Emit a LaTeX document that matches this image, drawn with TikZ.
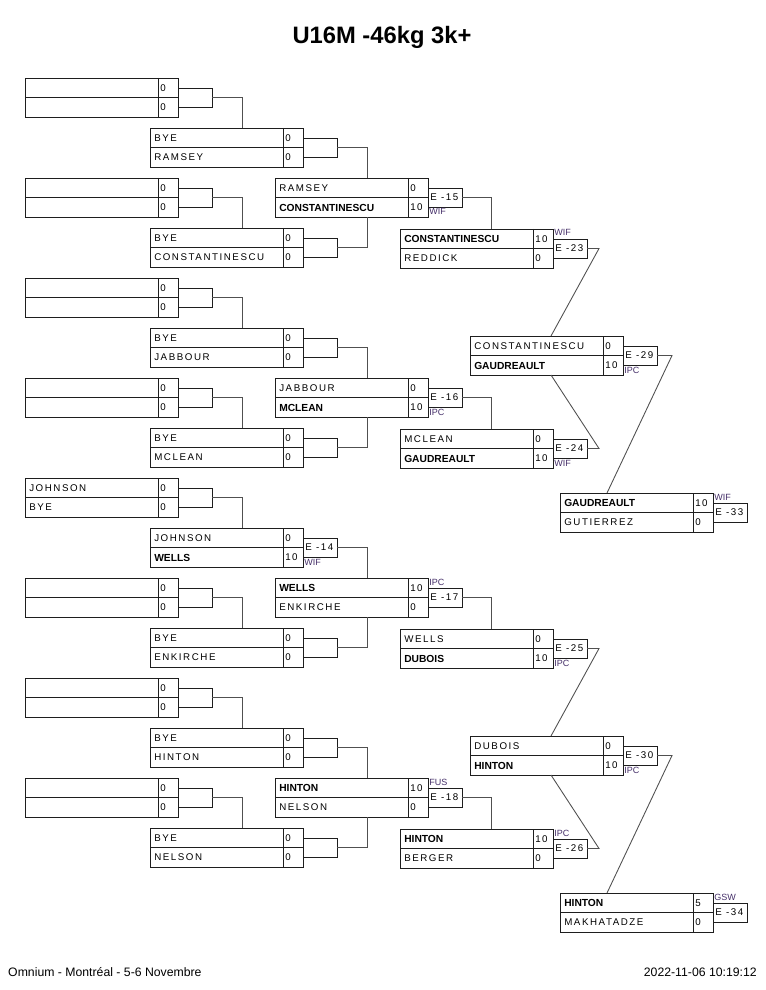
\documentclass[tikz,border=0pt]{standalone}
\usepackage{fontspec}
\setmainfont{Liberation Sans}
\newfontfamily\spc[LetterSpace=16]{Liberation Sans}
\usetikzlibrary{calc}
\definecolor{lblc}{HTML}{46306A}
\definecolor{boxc}{HTML}{1E1E1E}
\definecolor{lnkc}{HTML}{505050}
\tikzset{
 mbox/.style={draw=boxc, line width=0.7pt, rectangle, anchor=north west, minimum width=122.4pt, minimum height=31.2pt, inner sep=0pt, outer sep=0pt},
 cbox/.style={draw=boxc, line width=0.7pt, rectangle, anchor=west, minimum width=27.2pt, minimum height=15.2pt, inner sep=0pt, outer sep=0pt},
 div/.style={draw=boxc, line width=0.7pt},
 nm/.style={anchor=west, inner sep=0pt, font=\spc\fontsize{7.8}{9}\selectfont},
 sc/.style={anchor=west, inner sep=0pt, font=\spc\fontsize{7.8}{9}\selectfont},
 ct/.style={anchor=west, inner sep=0pt, font=\spc\fontsize{7.8}{9}\selectfont},
 lk/.style={draw=lnkc, line width=0.7pt},
 labA/.style={anchor=base west, inner sep=0pt, font=\fontsize{7.2}{8}\selectfont, text=lblc},
}
\newcommand\B[1]{{\normalfont\bfseries\fontsize{8.2}{9}\selectfont #1}}
\newcommand\mbx[8]{%
 \node[mbox] (#1) at (#2,#3) {};
 \draw[div] (#2,#3+19.5) -- (#2+153,#3+19.5);
 \draw[div] (#2+133,#3) -- (#2+133,#3+39);
 \node[nm] (#1-t) at (#2+4,#3+10) {#4};
 \node[sc] (#1-ts) at (#2+135,#3+10) {#5};
 \node[nm] (#1-b) at (#2+4,#3+29.5) {#6};
 \node[sc] (#1-bs) at (#2+135,#3+29.5) {#7};
 \node[cbox] (#1c) at (#2+153,#3+19.5) {};
 \node[ct] (#1-ct) at (#2+155,#3+19.5) {#8};
}
\begin{document}
\begin{tikzpicture}[x=0.8pt,y=-0.8pt]
\fill[white] (0,0) rectangle (765,990);
\useasboundingbox (0,0) rectangle (765,990);
\node[font=\bfseries\fontsize{19}{22}\selectfont] (title) at (382,37) {U16M -46kg 3k+};
% round 1
\mbx{r1a}{25}{78}{}{0}{}{0}{}
\mbx{r1b}{25}{178}{}{0}{}{0}{}
\mbx{r1c}{25}{278}{}{0}{}{0}{}
\mbx{r1d}{25}{378}{}{0}{}{0}{}
\mbx{r1e}{25}{478}{JOHNSON}{0}{BYE}{0}{}
\mbx{r1f}{25}{578}{}{0}{}{0}{}
\mbx{r1g}{25}{678}{}{0}{}{0}{}
\mbx{r1h}{25}{778}{}{0}{}{0}{}
% round 2
\mbx{r2a}{150}{128}{BYE}{0}{RAMSEY}{0}{}
\mbx{r2b}{150}{228}{BYE}{0}{CONSTANTINESCU}{0}{}
\mbx{r2c}{150}{328}{BYE}{0}{JABBOUR}{0}{}
\mbx{r2d}{150}{428}{BYE}{0}{MCLEAN}{0}{}
\mbx{r2e}{150}{528}{JOHNSON}{0}{\B{WELLS}}{10}{E -14}
\mbx{r2f}{150}{628}{BYE}{0}{ENKIRCHE}{0}{}
\mbx{r2g}{150}{728}{BYE}{0}{HINTON}{0}{}
\mbx{r2h}{150}{828}{BYE}{0}{NELSON}{0}{}
% round 3
\mbx{r3a}{275}{178}{RAMSEY}{0}{\B{CONSTANTINESCU}}{10}{E -15}
\mbx{r3b}{275}{378}{JABBOUR}{0}{\B{MCLEAN}}{10}{E -16}
\mbx{r3c}{275}{578}{\B{WELLS}}{10}{ENKIRCHE}{0}{E -17}
\mbx{r3d}{275}{778}{\B{HINTON}}{10}{NELSON}{0}{E -18}
% round 4
\mbx{r4a}{400}{229}{\B{CONSTANTINESCU}}{10}{REDDICK}{0}{E -23}
\mbx{r4b}{400}{429}{MCLEAN}{0}{\B{GAUDREAULT}}{10}{E -24}
\mbx{r4c}{400}{629}{WELLS}{0}{\B{DUBOIS}}{10}{E -25}
\mbx{r4d}{400}{829}{\B{HINTON}}{10}{BERGER}{0}{E -26}
% round 5
\mbx{r5a}{470}{336}{CONSTANTINESCU}{0}{\B{GAUDREAULT}}{10}{E -29}
\mbx{r5b}{470}{736}{DUBOIS}{0}{\B{HINTON}}{10}{E -30}
% round 6
\mbx{r6a}{560}{493}{\B{GAUDREAULT}}{10}{GUTIERREZ}{0}{E -33}
\mbx{r6b}{560}{893}{\B{HINTON}}{5}{MAKHATADZE}{0}{E -34}
% labels
\node[labA] (l14) at ($(r2ec.south west)+(1,8)$) {WIF};
\node[labA] (l15) at ($(r3ac.south west)+(1,8)$) {WIF};
\node[labA] (l16) at ($(r3bc.south west)+(1,8)$) {IPC};
\node[labA] (l17) at ($(r3cc.north west)+(1,-3)$) {IPC};
\node[labA] (l18) at ($(r3dc.north west)+(1,-3)$) {FUS};
\node[labA] (l23) at ($(r4ac.north west)+(1,-3)$) {WIF};
\node[labA] (l24) at ($(r4bc.south west)+(1,8)$) {WIF};
\node[labA] (l25) at ($(r4cc.south west)+(1,8)$) {IPC};
\node[labA] (l26) at ($(r4dc.north west)+(1,-3)$) {IPC};
\node[labA] (l29) at ($(r5ac.south west)+(1,8)$) {IPC};
\node[labA] (l30) at ($(r5bc.south west)+(1,8)$) {IPC};
\node[labA] (l33) at ($(r6ac.north west)+(1,-3)$) {WIF};
\node[labA] (l34) at ($(r6bc.north west)+(1,-3)$) {GSW};
% links round 1 -> 2
\foreach \a in {a,b,c,d,e,f,g,h}{
 \draw[lk] (r1\a c.east) -| ($(r2\a.north west)+(92,0)$);
}
% round 2 -> 3
\draw[lk] (r2ac.east) -| ($(r3a.north west)+(92,0)$);
\draw[lk] (r2bc.east) -| ($(r3a.south west)+(92,0)$);
\draw[lk] (r2cc.east) -| ($(r3b.north west)+(92,0)$);
\draw[lk] (r2dc.east) -| ($(r3b.south west)+(92,0)$);
\draw[lk] (r2ec.east) -| ($(r3c.north west)+(92,0)$);
\draw[lk] (r2fc.east) -| ($(r3c.south west)+(92,0)$);
\draw[lk] (r2gc.east) -| ($(r3d.north west)+(92,0)$);
\draw[lk] (r2hc.east) -| ($(r3d.south west)+(92,0)$);
% round 3 -> 4
\draw[lk] (r3ac.east) -| ($(r4a.north west)+(91,0)$);
\draw[lk] (r3bc.east) -| ($(r4b.north west)+(91,0)$);
\draw[lk] (r3cc.east) -| ($(r4c.north west)+(91,0)$);
\draw[lk] (r3dc.east) -| ($(r4d.north west)+(91,0)$);
% round 4 -> 5
\draw[lk] (r4ac.east) -- ++(12,0) -- ($(r5a.north west)+(81,0)$);
\draw[lk] (r4bc.east) -- ++(12,0) -- ($(r5a.south west)+(81,0)$);
\draw[lk] (r4cc.east) -- ++(12,0) -- ($(r5b.north west)+(81,0)$);
\draw[lk] (r4dc.east) -- ++(12,0) -- ($(r5b.south west)+(81,0)$);
% round 5 -> 6
\draw[lk] (r5ac.east) -- ++(15,0) -- ($(r6a.north west)+(47,0)$);
\draw[lk] (r5bc.east) -- ++(15,0) -- ($(r6b.north west)+(47,0)$);
% footer
\node[anchor=west, inner sep=0pt, font=\fontsize{9.8}{11}\selectfont] (foot) at (8,972) {Omnium - Montréal - 5-6 Novembre};
\node[anchor=east, inner sep=0pt, font=\fontsize{9.8}{11}\selectfont] (date) at (757,972) {2022-11-06 10:19:12};
\end{tikzpicture}
\end{document}
